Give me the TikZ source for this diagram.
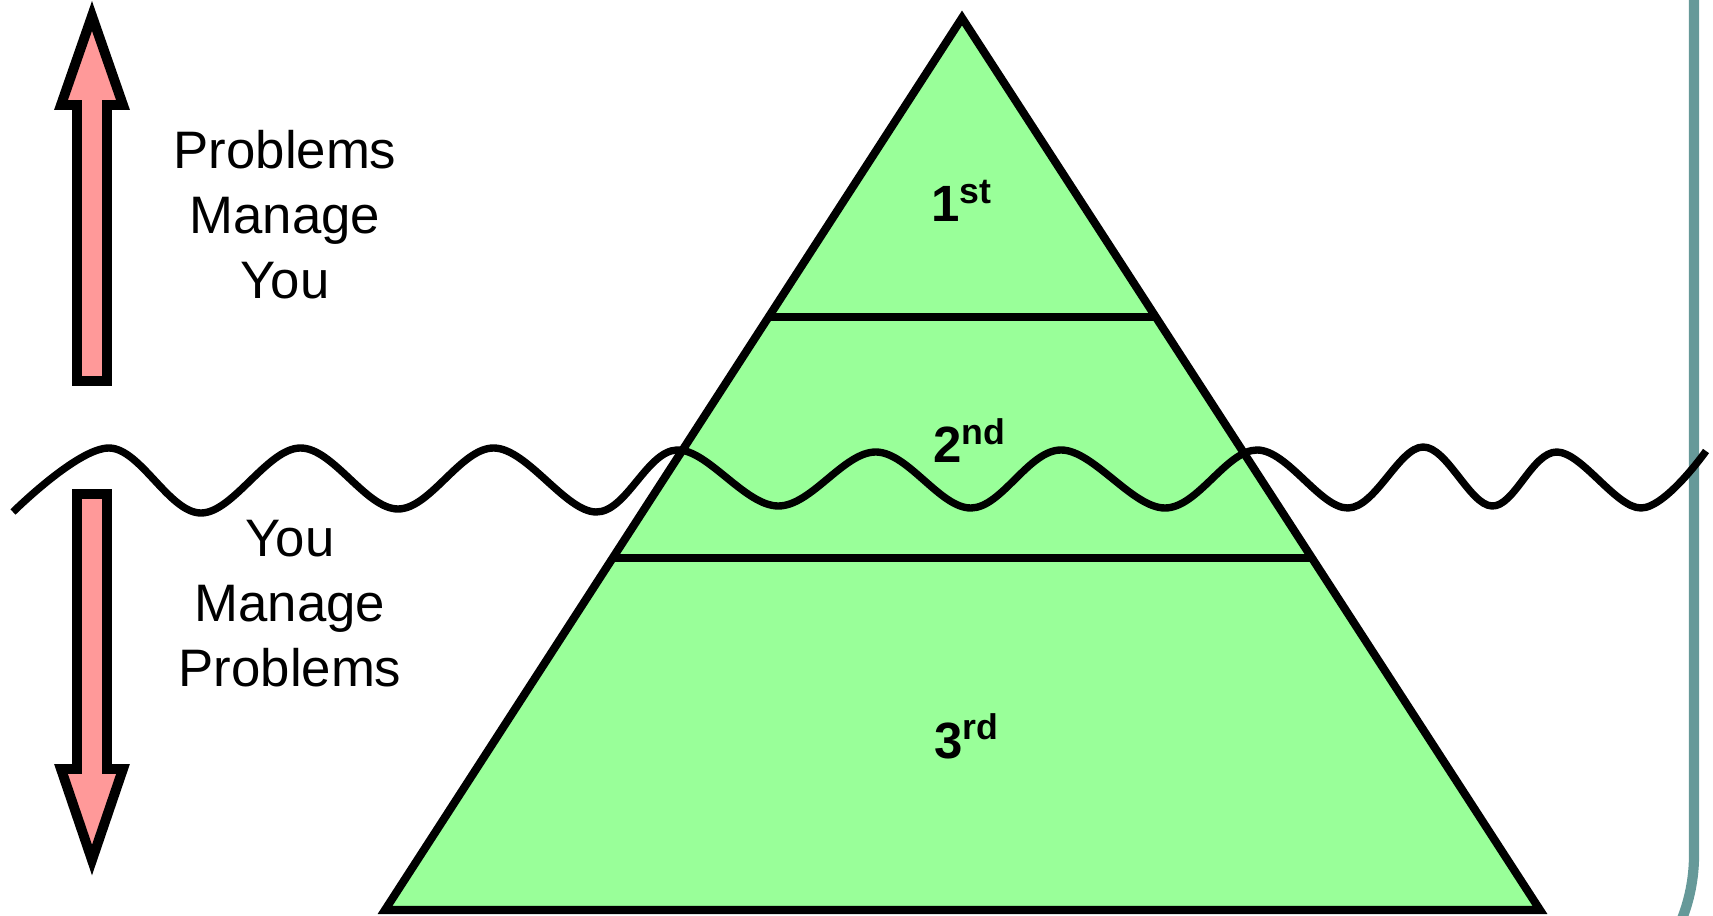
\documentclass[tikz,border=0pt]{standalone}
\usepackage{fontspec}
\setmainfont{Liberation Sans}
\usetikzlibrary{calc}
\definecolor{tiergreen}{HTML}{99FF99}
\definecolor{arrowpink}{HTML}{FF9999}
\definecolor{frameteal}{HTML}{669999}
\begin{document}
\begin{tikzpicture}[x=0.01cm,y=-0.01cm,
    sidetext/.style={font=\fontsize{15}{18.4}\selectfont,align=center,inner sep=0pt,anchor=north},
    tier/.style={font=\fontsize{14.5}{17}\selectfont\bfseries,inner sep=0pt,anchor=base},
    fat arrow/.style={draw,fill=arrowpink,line width=2.8pt}]
        \useasboundingbox (0,0) rectangle (1713,916);
        \clip (0,0) rectangle (1713,916);
        % frame edge on the right
        \draw[frameteal,line width=2.9pt,rounded corners=1.75cm] (1694,-20) -- (1694,1030) -- (1300,1030);
        % pyramid
        \coordinate (apex) at (962,18);
        \coordinate (bl) at (385,910);
        \coordinate (br) at (1540,910);
        \draw[fill=tiergreen,line width=2.3pt] (apex) -- (br) -- (bl) -- cycle;
        \foreach \t in {0.335,0.605} {
            \draw[line width=2.3pt] ($(apex)!\t!(bl)$) -- ($(apex)!\t!(br)$);
        }
        \node[tier] (first) at (962,222) {1\textsuperscript{st}};
        \node[tier] (second) at (970,463) {2\textsuperscript{nd}};
        \node[tier] (third) at (967,758) {3\textsuperscript{rd}};
        % arrows and texts on the left
        \draw[fat arrow] (92,16) -- (123,105) -- (107,105) -- (107,381) -- (77,381) -- (77,105) -- (61,105) -- cycle;
        \draw[fat arrow] (77,494) -- (107,494) -- (107,769) -- (123,769) -- (92,860) -- (61,769) -- (77,769) -- cycle;
        \node[sidetext] (upper) at (285,130) {Problems\\Manage\\You};
        \node[sidetext] (lower) at (290,520) {You\\Manage\\Problems};
        % water line
        \draw[line width=2.1pt] plot[smooth,tension=0.6] coordinates {(13,512) (109,448) (201,513) (300,448) (398,509) (494,448) (596,512) (677,450) (778,506) (876,452) (971,508) (1061,450) (1165,508) (1257,450) (1348,508) (1423,447) (1492,506) (1557,452) (1641,508) (1706,451)};
    \end{tikzpicture}
\end{document}
